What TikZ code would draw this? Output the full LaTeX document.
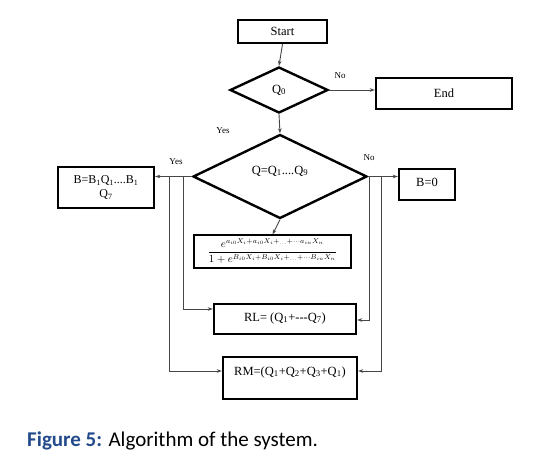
\documentclass[tikz,border=0pt]{standalone}
\usepackage{amsmath}
\usepackage{fontspec}
\setmainfont{Liberation Serif}
\newfontfamily\capfont{Carlito}
\usetikzlibrary{shapes.geometric,arrows.meta,calc}
\definecolor{capblue}{RGB}{35,75,140}
\definecolor{linegray}{RGB}{70,70,70}
\begin{document}
\begin{tikzpicture}[x=1pt,y=-1pt,
  box/.style={draw=black,line width=2.4pt,rectangle,inner sep=2pt,font=\fontsize{12.5}{14}\selectfont,align=center},
  dec/.style={draw=black,line width=2.4pt,diamond,inner sep=0pt,font=\fontsize{12.5}{14}\selectfont},
  arr/.style={draw=linegray,line width=0.9pt,-{Stealth[length=5pt,width=3.5pt]}},
  lbl/.style={font=\fontsize{9}{10}\selectfont,inner sep=0pt}]
\useasboundingbox (0,0) rectangle (536,458);
\fill[white] (0,0) rectangle (536,458);
% nodes
\node[box,minimum width=89pt,minimum height=23pt] (start) at (282.5,31.5) {Start};
\node[dec,minimum width=98pt,minimum height=46pt] (q0) at (279,90) {Q\textsubscript{0}};
\node[box,minimum width=136pt,minimum height=31pt] (end) at (444,93.5) {End};
\node[dec,minimum width=174pt,minimum height=84pt,text height=9pt,text depth=14pt] (q) at (280,176.5) {Q=Q\textsubscript{1}....Q\textsubscript{9}};
\node[box,minimum width=96pt,minimum height=41pt,font=\fontsize{12}{13.5}\selectfont] (bb) at (106,187.5) {B=B\textsubscript{1}Q\textsubscript{1}....B\textsubscript{1}\\Q\textsubscript{7}};
\node[box,minimum width=56pt,minimum height=31pt,text height=9pt,text depth=6pt] (b0) at (427,184.5) {B=0};
\node[box,line width=1.1pt,minimum width=157pt,minimum height=33pt,inner sep=1pt] (form) at (272.5,251.5)
  {\fontsize{10.5}{12}\selectfont$\dfrac{e^{a_{i0}X_i + a_{i0}X_i +_{\dots}+\cdots a_{in}X_{n}}}{1+e^{B_{i0}X_i + B_{i0}X_i +_{\dots}+\cdots B_{in}X_{n}}}$};
\node[box,minimum width=142pt,minimum height=30pt,text height=9pt,text depth=5pt] (rl) at (285,319) {RL= (Q\textsubscript{1}+-{}-{}-Q\textsubscript{7})};
\node[box,minimum width=134pt,minimum height=42pt,text height=9pt,text depth=15pt] (rm) at (290,378) {RM=(Q\textsubscript{1}+Q\textsubscript{2}+Q\textsubscript{3}+Q\textsubscript{1})};
% branch coordinates
\coordinate (lA) at (183,177);
\coordinate (lB) at (169,177);
\coordinate (rA) at (369,177);
\coordinate (rB) at (381,177);
% connectors
\draw[arr] (start.south) -- (q0.north);
\draw[arr] (q0.east) -- (end.west |- q0.east);
\draw[arr] (q0.south) -- (q.north);
\draw[arr] (q.west) -- (bb.east |- q.west);
\draw[arr] (q.east) -- (b0.west |- q.east);
\draw[arr] (q.south) -- (form.north);
\draw[arr] (q.west -| lA) |- ([yshift=10pt]rl.west);
\draw[arr] (q.west -| lB) |- ([yshift=7pt]rm.west);
\draw[arr] (q.east -| rA) |- ([yshift=-1pt]rl.east);
\draw[arr] (q.east -| rB) |- ([yshift=7pt]rm.east);
% labels
\node[lbl] (lno1) at (340,76) {No};
\node[lbl] (lyes1) at (223,131) {Yes};
\node[lbl] (lyes2) at (176,162) {Yes};
\node[lbl] (lno2) at (369,158) {No};
% caption
\node[anchor=west,inner sep=0pt,font=\capfont\fontsize{21}{24}\selectfont] (cap) at (27,441)
  {{\bfseries\color{capblue}Figure 5:} Algorithm of the system.};
\end{tikzpicture}
\end{document}
